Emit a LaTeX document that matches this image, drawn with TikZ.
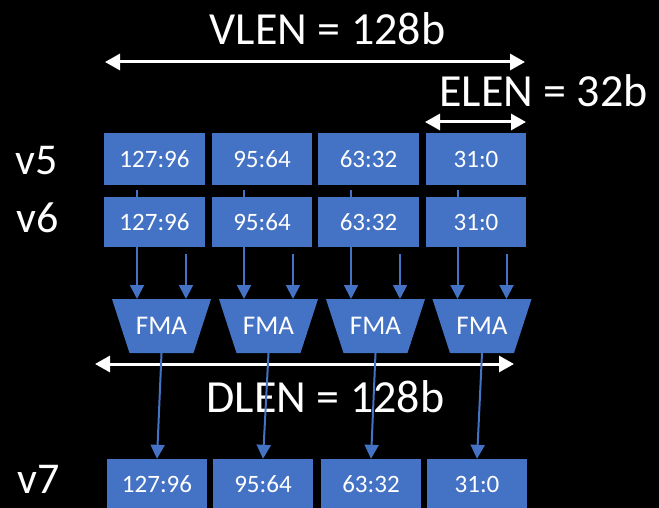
\documentclass[tikz,border=0pt]{standalone}
\usepackage{fontspec}
\setmainfont{Carlito}
\usetikzlibrary{arrows.meta,shapes.geometric,calc}
\definecolor{officeblue}{HTML}{4472C4}
\begin{document}
\begin{tikzpicture}[x=1pt,y=-1pt,
  lane/.style={fill=officeblue, draw=none, minimum width=100.5pt, minimum height=50pt,
    inner sep=0pt, text=white, font=\fontsize{25}{30}\selectfont},
  % short side 64pt, height 54pt, sides at 72 degrees -> long side 99pt
  fma/.style={trapezium, shape border rotate=180,
    trapezium left angle=72, trapezium right angle=72,
    text width=64pt, align=center, text height=35.7pt, text depth=18.3pt,
    inner sep=0pt, fill=officeblue, text=white,
    font=\fontsize{27}{30}\selectfont},
  flow/.style={draw=officeblue, line width=2pt, -{Triangle[width=14pt,length=14pt]}},
  span/.style={draw=white, line width=3pt,
    {Triangle[width=16pt,length=15pt]}-{Triangle[width=16pt,length=15pt]}},
  big/.style={text=white, font=\fontsize{46}{50}\selectfont, inner sep=0pt, anchor=base},
  reg/.style={text=white, font=\fontsize{44}{50}\selectfont, inner sep=0pt, anchor=base west},
]
% background and page frame
\fill[black] (0,0) rectangle (659,508);
\useasboundingbox (0,0) rectangle (659,508);

% width annotations
\node[big] (vlen) at (327.5,45) {VLEN = 128b};
\coordinate (vl) at (105,62);
\coordinate (vr) at (525,62);
\draw[span] (vl) -- (vr);
\node[big] (elen) at (543.5,107) {ELEN = 32b};
\coordinate (el) at (425,122);
\coordinate (er) at (526,122);
\draw[span] (el) -- (er);

% register labels
\node[reg] (v5) at (15,175) {v5};
\node[reg] (v6) at (16,232) {v6};
\node[reg] (v7) at (17,493) {v7};

% source register v5
\node[lane, minimum height=52pt] (a1) at (154.5,159) {127:96};
\node[lane, minimum height=52pt] (a2) at (262,159) {95:64};
\node[lane, minimum height=52pt] (a3) at (368.5,159) {63:32};
\node[lane, minimum height=52pt] (a4) at (476,159) {31:0};

% FMA units
\node[fma] (f1) at (161.5,326) {FMA};
\node[fma] (f2) at (268.5,326) {FMA};
\node[fma] (f3) at (375.5,326) {FMA};
\node[fma] (f4) at (482,326) {FMA};

% v5 operands run behind v6 into the left input of each FMA
\foreach \i in {1,2,3,4} {
  \coordinate (l\i) at ($(f\i.center)+(-24.5,-27)$);
  \coordinate (r\i) at ($(f\i.center)+(24.5,-27)$);
  \coordinate (s\i) at ($(r\i)+(0,-45)$);
  \coordinate (t\i) at ($(a\i.south -| l\i)+(0,5)$);
  \draw[flow] (t\i) -- (l\i);
}

% source register v6
\node[lane] (b1) at (154.5,222) {127:96};
\node[lane] (b2) at (262,222) {95:64};
\node[lane] (b3) at (368.5,222) {63:32};
\node[lane] (b4) at (476,222) {31:0};

% v6 operands into the right input
\foreach \i in {1,2,3,4} {
  \draw[flow] (s\i) -- (r\i);
}

% datapath width
\coordinate (dl) at (95,364);
\coordinate (dr) at (514,364);
\draw[span] (dl) -- (dr);
\node[big] (dlen) at (325.5,412) {DLEN = 128b};

% destination register v7
\node[lane] (c1) at (157,484) {127:96};
\node[lane] (c2) at (263,484) {95:64};
\node[lane] (c3) at (371,484) {63:32};
\node[lane] (c4) at (477,484) {31:0};

% results
\foreach \i in {1,2,3,4} {
  \draw[flow] (f\i.south) -- (c\i.north);
}
\end{tikzpicture}
\end{document}
